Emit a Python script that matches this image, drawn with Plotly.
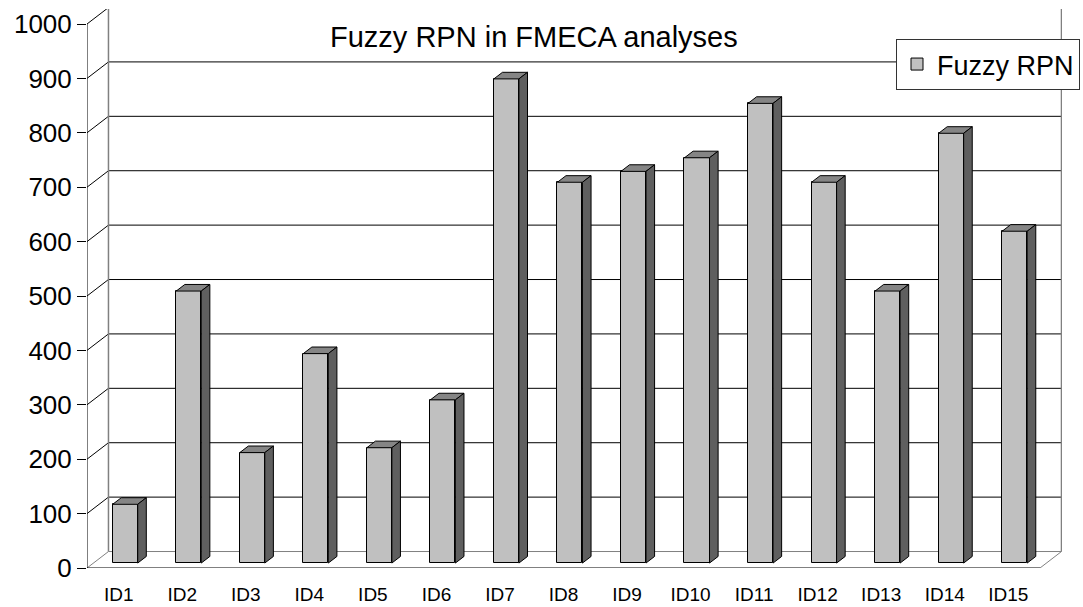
import plotly.graph_objects as go

# ---- data ----
categories = ["ID1", "ID2", "ID3", "ID4", "ID5", "ID6", "ID7", "ID8",
              "ID9", "ID10", "ID11", "ID12", "ID13", "ID14", "ID15"]
fuzzy_rpn = [108, 500, 203, 385, 212, 300, 890, 700, 720, 745, 845, 700, 500, 790, 610]
y_tick_values = [0, 100, 200, 300, 400, 500, 600, 700, 800, 900, 1000]
series_name = "Fuzzy RPN"
chart_title = "Fuzzy RPN in FMECA analyses"

# ---- pseudo-3D geometry (axis units) ----
WALL_DX = 0.338      # depth offset of the back wall, in category units
WALL_DY = 30.3       # depth offset of the back wall, in value units
BAR_W = 0.394        # width of a bar's front face
BAR_FRONT = 0.30     # depth fraction where the bar's front face sits
BAR_BACK = 0.70      # depth fraction where the bar's back face sits
Y_TOP = max(y_tick_values)

FONT = "Liberation Sans, Arial, sans-serif"
FACE = "#C0C0C0"
TOP = "#858585"
SIDE = "#5F5F5F"
GRID = "#000000"
EDGE = "#808080"

n = len(categories)
xs = list(range(n))
x_lo, x_hi = -0.5, n - 0.5

fx, fy = BAR_FRONT * WALL_DX, BAR_FRONT * WALL_DY
ddx, ddy = (BAR_BACK - BAR_FRONT) * WALL_DX, (BAR_BACK - BAR_FRONT) * WALL_DY

fig = go.Figure()

# front faces of the columns
fig.add_trace(go.Bar(
    x=[x + fx for x in xs], y=fuzzy_rpn, base=fy, width=BAR_W,
    name=series_name, marker=dict(color=FACE, line=dict(color="black", width=1)),
    showlegend=True, hoverinfo="skip",
))

# top and side faces of the columns
top_x, top_y, side_x, side_y = [], [], [], []
for x, v in zip(xs, fuzzy_rpn):
    x0 = x + fx - BAR_W / 2
    x1 = x + fx + BAR_W / 2
    yt = fy + v
    top_x += [x0, x1, x1 + ddx, x0 + ddx, x0, None]
    top_y += [yt, yt, yt + ddy, yt + ddy, yt, None]
    side_x += [x1, x1 + ddx, x1 + ddx, x1, x1, None]
    side_y += [fy, fy + ddy, yt + ddy, yt, fy, None]

for px, py, col in ((top_x, top_y, TOP), (side_x, side_y, SIDE)):
    fig.add_trace(go.Scatter(
        x=px, y=py, mode="lines", fill="toself", fillcolor=col,
        line=dict(color="black", width=1), showlegend=False, hoverinfo="skip",
    ))

shapes = []


def seg(x0, y0, x1, y1, color, width=1):
    shapes.append(dict(type="line", xref="x", yref="y", x0=x0, y0=y0, x1=x1, y1=y1,
                       line=dict(color=color, width=width), layer="below"))


# back wall gridlines and the side-wall diagonals
for v in y_tick_values:
    wall_col = EDGE if v in (0, Y_TOP) else GRID
    seg(x_lo + WALL_DX, v + WALL_DY, x_hi + WALL_DX, v + WALL_DY, wall_col)
    seg(x_lo, v, x_lo + WALL_DX, v + WALL_DY, EDGE if v == 0 else GRID)

# back wall edges
seg(x_lo + WALL_DX, WALL_DY, x_lo + WALL_DX, Y_TOP + WALL_DY, EDGE, 1.5)
seg(x_hi + WALL_DX, WALL_DY, x_hi + WALL_DX, Y_TOP + WALL_DY, EDGE, 1.5)
# floor right edge
seg(x_hi, 0, x_hi + WALL_DX, WALL_DY, EDGE)
# front value axis and category axis
seg(x_lo, 0, x_lo, Y_TOP, "black")
seg(x_lo, 0, x_hi, 0, "black")

# category boundary tick marks below the floor
for k in range(n + 1):
    shapes.append(dict(type="line", xref="x", yref="y", x0=x_lo + k, x1=x_lo + k,
                       ysizemode="pixel", yanchor=0, y0=0, y1=-9,
                       line=dict(color="black", width=1)))

fig.update_layout(
    width=1083, height=607,
    margin=dict(l=87, r=21, t=9, b=39, pad=0, autoexpand=False),
    paper_bgcolor="white", plot_bgcolor="white",
    font=dict(family=FONT, color="black"),
    shapes=shapes,
    showlegend=True,
    legend=dict(
        x=(896 - 87) / 975, y=(568 - 39) / 559, xanchor="left", yanchor="top",
        bgcolor="white", bordercolor="#333333", borderwidth=1,
        font=dict(size=27, family=FONT, color="black"),
        itemwidth=30, tracegroupgap=0,
    ),
    annotations=[dict(
        text=chart_title, xref="paper", yref="paper",
        x=(534 - 87) / 975, y=(568 - 37) / 559, xanchor="center", yanchor="middle",
        showarrow=False, font=dict(size=29, family=FONT, color="black"),
    )],
    bargap=0,
)

fig.update_xaxes(
    range=[x_lo, x_lo + 975 / 63.533], tickmode="array", tickvals=xs, ticktext=categories,
    ticks="", showgrid=False, zeroline=False, showline=False, automargin=False,
    tickfont=dict(size=19, family=FONT, color="black"), ticklabelstandoff=13,
)
fig.update_yaxes(
    range=[0, 559 / 0.544], tickmode="array", tickvals=y_tick_values,
    ticks="outside", ticklen=9, tickcolor="black", tickwidth=1,
    showgrid=False, zeroline=False, showline=False, automargin=False,
    tickfont=dict(size=26, family=FONT, color="black"), ticklabelstandoff=0,
)

fig.write_html("out.html")
